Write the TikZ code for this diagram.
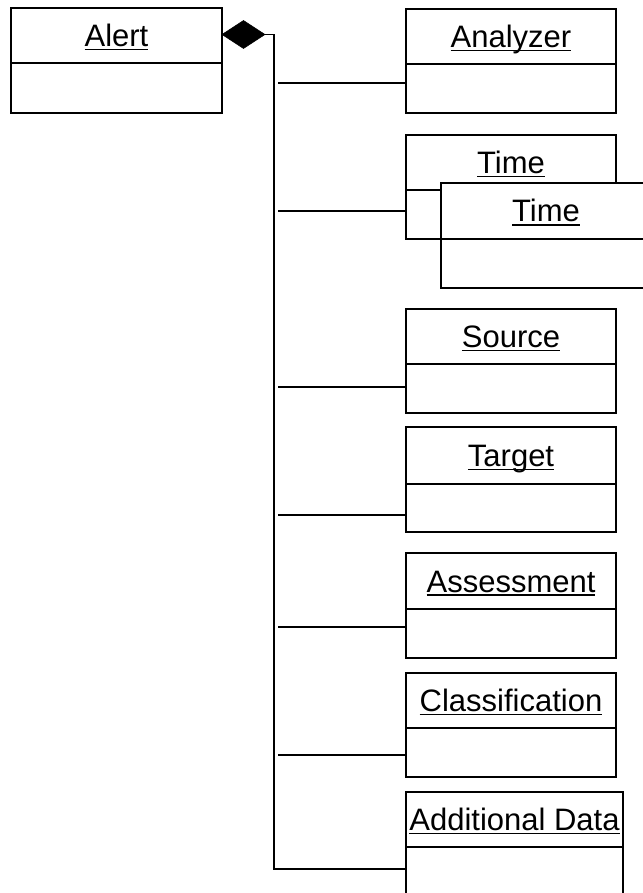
\documentclass[tikz,border=0pt]{standalone}
\usepackage{fontspec}
\setmainfont{Liberation Sans}
\usetikzlibrary{shapes.geometric}
\newsavebox\ulbox
\newcommand\myul[1]{\sbox\ulbox{#1}\rlap{\rule[-3.8pt]{\wd\ulbox}{1.7pt}}\usebox\ulbox}
\tikzset{
  comp/.style={draw, fill=white, line width=2.6pt, inner sep=0pt, outer sep=0pt,
    text height=22pt, text depth=0pt, font=\fontsize{31}{31}\selectfont},
  trunk/.style={line width=1.3pt},
  branch/.style={line width=2pt},
  compdiamond/.style={diamond, fill=black, draw=black, line width=0.5pt, inner sep=0pt,
    outer sep=0pt, minimum width=43pt, minimum height=28pt, anchor=west}
}
% name, x1, x2, top, divider, bottom, text
\newcommand\umlclass[7]{%
  \pgfmathsetmacro\clsW{#3-#2}\pgfmathsetmacro\clsX{(#2+#3)/2}%
  \pgfmathsetmacro\clsTH{#5-#4}\pgfmathsetmacro\clsTY{(#4+#5)/2}%
  \pgfmathsetmacro\clsBH{#6-#5}\pgfmathsetmacro\clsBY{(#5+#6)/2}%
  \node[comp, minimum width=\clsW pt, minimum height=\clsTH pt] (#1T) at (\clsX,\clsTY) {\myul{#7}};
  \node[comp, minimum width=\clsW pt, minimum height=\clsBH pt] (#1B) at (\clsX,\clsBY) {};
}
\begin{document}
\begin{tikzpicture}[x=1pt, y=-1pt, line join=miter]
\useasboundingbox (0,0) rectangle (642,893);
\fill[white] (0,0) rectangle (642,893);

\umlclass{Alert}{11}{222}{8}{63}{113}{Alert}
\umlclass{Ana}{406}{616}{9}{64}{113}{Analyzer}
\umlclass{TimeA}{406}{616}{135}{190}{239}{Time}
\umlclass{TimeB}{441}{651}{183}{239}{288}{Time}
\umlclass{Src}{406}{616}{309}{364}{413}{Source}
\umlclass{Tgt}{406}{616}{427}{484}{532}{Target}
\umlclass{Ass}{406}{616}{553}{609}{658}{Assessment}
\umlclass{Cls}{406}{616}{673}{728}{777}{Classification}
\umlclass{Add}{406}{623}{792}{847}{897}{Additional Data}

\node[compdiamond] (dia) at ([yshift=1pt]AlertT.east) {};

\coordinate (tBot) at (274,869);
\draw[trunk] (dia.east) -| (tBot) -- (AddB.west |- tBot);

\coordinate (b1) at (278,83);
\coordinate (b2) at (278,211);
\coordinate (b3) at (278,387);
\coordinate (b4) at (278,515);
\coordinate (b5) at (278,627);
\coordinate (b6) at (278,755);
\draw[branch] (b1) -- (AnaB.west |- b1);
\draw[branch] (b2) -- (TimeAB.west |- b2);
\draw[branch] (b3) -- (SrcB.west |- b3);
\draw[branch] (b4) -- (TgtB.west |- b4);
\draw[branch] (b5) -- (AssB.west |- b5);
\draw[branch] (b6) -- (ClsB.west |- b6);
\end{tikzpicture}
\end{document}
